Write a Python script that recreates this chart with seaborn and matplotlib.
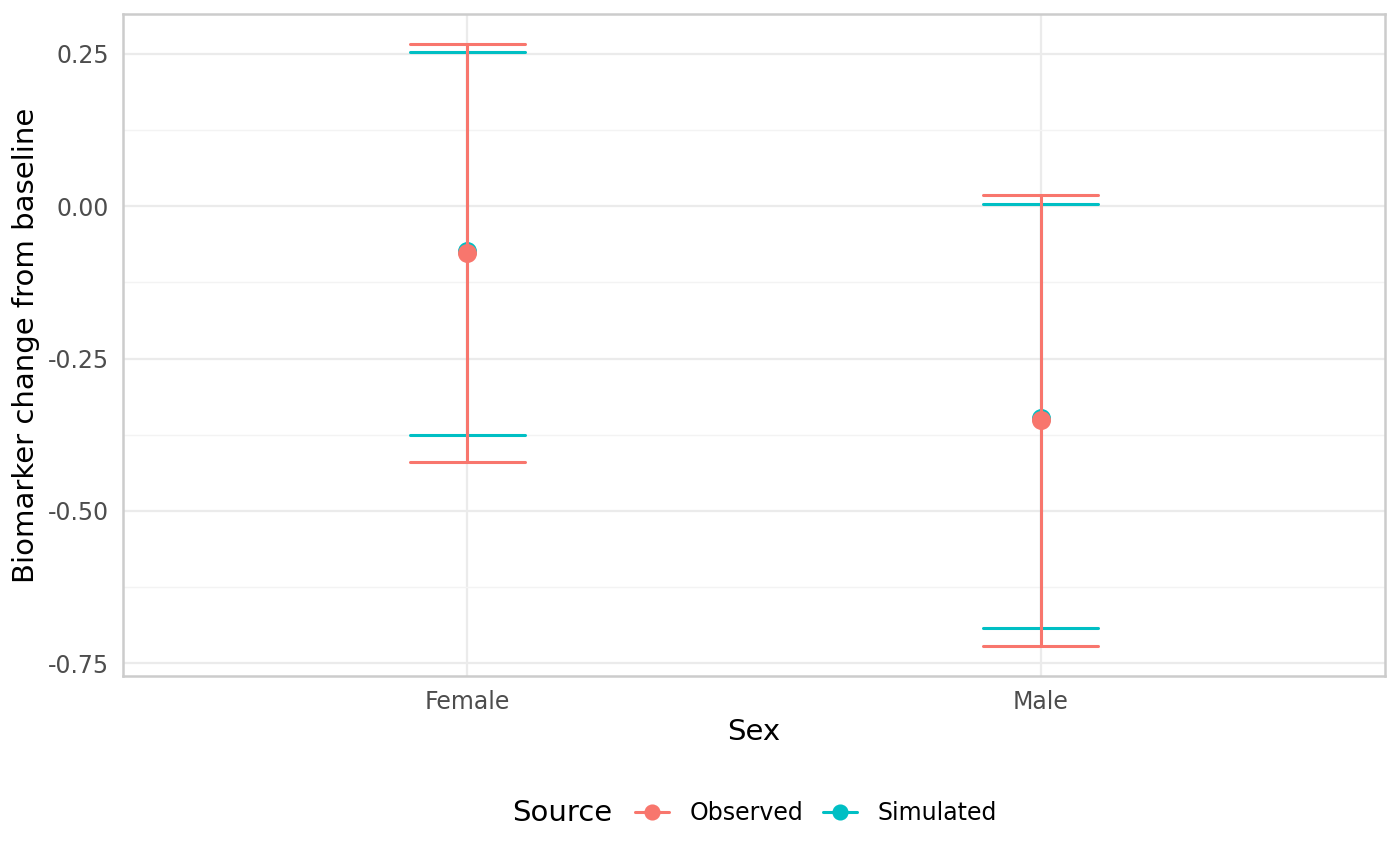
import pandas as pd
import numpy as np
import matplotlib
matplotlib.use("Agg")
import matplotlib.pyplot as plt
from matplotlib.lines import Line2D
from matplotlib.ticker import MultipleLocator
from matplotlib.offsetbox import HPacker
import seaborn as sns

# --- Data (summary values) ---
sexes = ["Female", "Male"]
sources = ["Observed", "Simulated"]
obs_mean = [-0.077, -0.351]
obs_lo = [-0.420, -0.722]
obs_hi = [0.266, 0.018]
sim_mean = [-0.074, -0.348]
sim_lo = [-0.376, -0.693]
sim_hi = [0.253, 0.003]

colors = {"Observed": "#F8766D", "Simulated": "#00BFC4"}

# long table: lo / mean / hi per group; median = mean, 0-100 pi = lo..hi
rows = []
for src, mn, lo, hi in [("Observed", obs_mean, obs_lo, obs_hi),
                        ("Simulated", sim_mean, sim_lo, sim_hi)]:
    for i, sex in enumerate(sexes):
        for v in (lo[i], mn[i], hi[i]):
            rows.append({"Sex": sex, "Source": src, "value": v})
df = pd.DataFrame(rows)

sns.set_style("white")
plt.rcParams["font.family"] = ["DejaVu Sans"]
plt.rcParams["text.color"] = "black"

fig, ax = plt.subplots(figsize=(7, 4.325), dpi=200)

# simulated first so observed sits on top, as in the reference
sns.pointplot(data=df, x="Sex", y="value", hue="Source",
              hue_order=["Simulated", "Observed"], order=sexes,
              palette=colors, estimator="median", errorbar=("pi", 100),
              capsize=0.2, linestyle="none", dodge=False,
              markersize=4.8, err_kws={"linewidth": 1.1}, ax=ax)

ax.set_xlim(-0.6, 1.6)
ax.set_ylim(-0.7718, 0.3157)
ax.yaxis.set_minor_locator(MultipleLocator(0.125))
ax.set_yticks([0.25, 0.0, -0.25, -0.5, -0.75])
ax.set_yticklabels(["0.25", "0.00", "-0.25", "-0.50", "-0.75"])

ax.grid(True, which="major", color="#EBEBEB", linewidth=0.8)
ax.grid(True, which="minor", axis="y", color="#F3F3F3", linewidth=0.5)
ax.set_axisbelow(True)
for sp in ax.spines.values():
    sp.set_color("#CCCCCC")
    sp.set_linewidth(0.9)

ax.tick_params(axis="both", which="major", length=2.5, width=0.6,
               color="#333333", labelcolor="#4D4D4D", labelsize=8.5, pad=2.5)
ax.tick_params(axis="y", which="minor", length=0)
ax.set_xlabel("Sex", fontsize=10.5, color="black", labelpad=1.5)
ax.set_ylabel("Biomarker change from baseline", fontsize=10.5, color="black", labelpad=3)

ax.get_legend().remove()
handles = [Line2D([0], [0], color=colors[s], marker="o", markersize=4.8,
                  linewidth=1.1) for s in sources]
leg = fig.legend(handles, sources, title="Source", loc="center",
                 bbox_to_anchor=(0.539, 0.06), ncol=2, frameon=False,
                 fontsize=8.5, title_fontsize=10.5, handlelength=1.45,
                 columnspacing=0.85, handletextpad=0.85, labelcolor="black")
# put the title to the left of the entries, as in ggplot's bottom legend
box = leg._legend_box
box.__class__ = HPacker
box.align = "center"
box.sep = 8

fig.subplots_adjust(left=0.088, right=0.989, top=0.984, bottom=0.218)
fig.savefig("out.png", dpi=200)
